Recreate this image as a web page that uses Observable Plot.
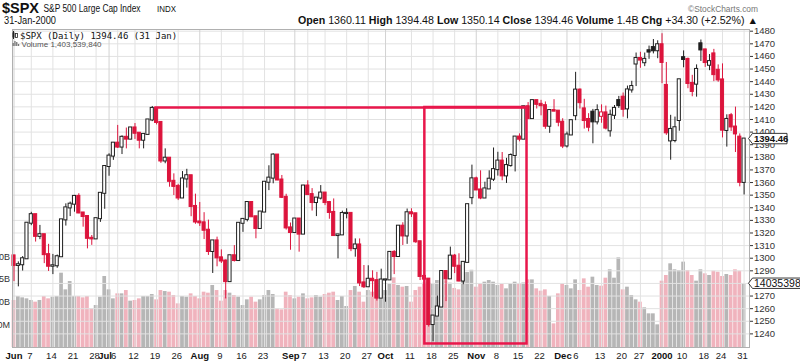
<!DOCTYPE html>
<html><head><meta charset="utf-8">
<script src="https://cdn.jsdelivr.net/npm/d3@7"></script>
<script src="https://cdn.jsdelivr.net/npm/@observablehq/plot@0.6"></script>
<style>
body{margin:0;background:#fff;}
#wrap{position:relative;width:800px;height:362px;overflow:hidden;background:#fff;font-family:"Liberation Sans",Arial,sans-serif;}
#wrap svg{position:absolute;left:0;top:0;}
</style></head><body><div id="wrap"></div>
<script>
// ---------- DATA ----------
const dates = [
"1999-06-01","1999-06-02","1999-06-03","1999-06-04","1999-06-07","1999-06-08","1999-06-09","1999-06-10","1999-06-11","1999-06-14","1999-06-15","1999-06-16","1999-06-17","1999-06-18","1999-06-21","1999-06-22","1999-06-23","1999-06-24","1999-06-25","1999-06-28","1999-06-29","1999-06-30",
"1999-07-01","1999-07-02","1999-07-06","1999-07-07","1999-07-08","1999-07-09","1999-07-12","1999-07-13","1999-07-14","1999-07-15","1999-07-16","1999-07-19","1999-07-20","1999-07-21","1999-07-22","1999-07-23","1999-07-26","1999-07-27","1999-07-28","1999-07-29","1999-07-30",
"1999-08-02","1999-08-03","1999-08-04","1999-08-05","1999-08-06","1999-08-09","1999-08-10","1999-08-11","1999-08-12","1999-08-13","1999-08-16","1999-08-17","1999-08-18","1999-08-19","1999-08-20","1999-08-23","1999-08-24","1999-08-25","1999-08-26","1999-08-27","1999-08-30","1999-08-31",
"1999-09-01","1999-09-02","1999-09-03","1999-09-07","1999-09-08","1999-09-09","1999-09-10","1999-09-13","1999-09-14","1999-09-15","1999-09-16","1999-09-17","1999-09-20","1999-09-21","1999-09-22","1999-09-23","1999-09-24","1999-09-27","1999-09-28","1999-09-29","1999-09-30",
"1999-10-01","1999-10-04","1999-10-05","1999-10-06","1999-10-07","1999-10-08","1999-10-11","1999-10-12","1999-10-13","1999-10-14","1999-10-15","1999-10-18","1999-10-19","1999-10-20","1999-10-21","1999-10-22","1999-10-25","1999-10-26","1999-10-27","1999-10-28","1999-10-29",
"1999-11-01","1999-11-02","1999-11-03","1999-11-04","1999-11-05","1999-11-08","1999-11-09","1999-11-10","1999-11-11","1999-11-12","1999-11-15","1999-11-16","1999-11-17","1999-11-18","1999-11-19","1999-11-22","1999-11-23","1999-11-24","1999-11-26","1999-11-29","1999-11-30",
"1999-12-01","1999-12-02","1999-12-03","1999-12-06","1999-12-07","1999-12-08","1999-12-09","1999-12-10","1999-12-13","1999-12-14","1999-12-15","1999-12-16","1999-12-17","1999-12-20","1999-12-21","1999-12-22","1999-12-23","1999-12-27","1999-12-28","1999-12-29","1999-12-30","1999-12-31",
"2000-01-03","2000-01-04","2000-01-05","2000-01-06","2000-01-07","2000-01-10","2000-01-11","2000-01-12","2000-01-13","2000-01-14","2000-01-18","2000-01-19","2000-01-20","2000-01-21","2000-01-24","2000-01-25","2000-01-26","2000-01-27","2000-01-28","2000-01-31"];

const priorClose = 1301.84;

const open = [
1301.84,1294.26,1294.81,1299.54,1327.75,1334.52,1317.33,1318.64,1302.82,1293.64,1294.00,1301.16,1330.41,1339.90,1342.84,1349.00,1335.87,1333.06,1315.78,1315.31,1331.35,1351.45,
1372.71,1380.96,1391.22,1388.12,1395.86,1394.42,1403.28,1399.10,1393.56,1398.17,1409.62,1418.78,1407.65,1377.10,1379.29,1360.97,1356.94,1347.76,1362.84,1365.40,1341.03,
1328.72,1328.05,1322.18,1305.33,1313.71,1300.29,1297.80,1281.43,1301.93,1298.16,1327.68,1330.77,1344.16,1332.84,1323.59,1336.61,1360.22,1363.50,1381.79,1362.01,1348.27,1324.02,
1320.41,1331.07,1319.11,1357.24,1350.45,1344.15,1347.66,1351.66,1344.13,1336.29,1317.97,1318.48,1335.42,1335.53,1307.58,1310.51,1280.41,1277.36,1283.31,1282.20,1268.37,
1282.71,1282.81,1304.60,1301.35,1325.40,1317.64,1336.02,1335.21,1313.04,1285.55,1283.42,1247.41,1254.13,1261.32,1289.43,1283.61,1301.65,1293.63,1281.91,1296.71,1348.00,
1362.93,1354.12,1347.74,1354.93,1362.64,1370.23,1377.01,1365.28,1373.46,1381.46,1396.06,1394.39,1420.07,1410.71,1424.94,1422.00,1420.94,1404.64,1417.08,1416.62,1407.83,
1389.00,1397.72,1413.00,1433.30,1418.40,1410.00,1415.80,1408.11,1412.50,1415.22,1401.00,1413.32,1425.00,1427.70,1418.40,1433.43,1454.00,1458.34,1455.00,1464.50,1467.00,1464.50,
1469.25,1437.00,1393.00,1393.30,1409.20,1459.00,1457.60,1438.56,1438.00,1470.00,1465.15,1453.00,1462.00,1449.00,1441.36,1401.30,1413.00,1404.00,1396.00,1360.11];

const high = [
1301.84,1297.10,1301.30,1327.75,1336.40,1334.52,1326.00,1318.64,1311.00,1303.00,1302.50,1330.41,1343.10,1344.50,1349.80,1351.10,1335.87,1333.06,1318.00,1331.70,1351.45,1372.90,
1382.80,1391.22,1405.30,1397.00,1403.20,1403.28,1406.80,1399.10,1398.80,1409.80,1420.33,1418.78,1407.65,1386.70,1379.29,1366.90,1358.60,1368.70,1370.50,1365.40,1350.80,
1344.20,1336.10,1330.20,1313.71,1316.70,1306.60,1298.60,1301.93,1310.00,1327.68,1331.00,1344.16,1344.16,1332.84,1336.61,1360.24,1373.30,1382.80,1381.79,1365.60,1350.70,1327.90,
1331.20,1331.07,1357.70,1361.40,1355.20,1347.70,1357.60,1351.66,1345.00,1347.00,1318.50,1337.30,1339.20,1335.53,1315.30,1315.30,1294.20,1294.00,1290.00,1288.80,1291.30,
1283.20,1304.60,1306.00,1325.46,1328.10,1339.00,1339.20,1335.21,1313.04,1289.60,1283.42,1254.13,1270.00,1289.43,1289.43,1308.80,1303.00,1303.50,1297.00,1342.50,1373.80,
1364.30,1369.30,1360.30,1369.30,1387.40,1384.00,1383.80,1379.20,1382.70,1396.10,1398.60,1420.40,1423.40,1425.30,1424.94,1425.20,1423.90,1417.40,1425.70,1416.62,1410.60,
1400.00,1409.60,1447.40,1434.20,1426.00,1414.60,1418.00,1421.60,1421.60,1420.60,1417.40,1421.10,1428.30,1431.00,1436.50,1440.30,1462.70,1463.30,1462.70,1468.20,1473.40,1472.40,
1478.00,1455.22,1413.30,1411.90,1441.47,1464.40,1458.70,1445.00,1453.30,1473.00,1465.70,1461.50,1465.60,1453.30,1454.10,1413.70,1414.80,1419.80,1398.60,1394.48];

const low = [
1281.44,1277.30,1289.80,1299.54,1325.80,1312.80,1314.70,1295.70,1289.50,1287.00,1292.00,1301.16,1325.50,1333.00,1336.50,1335.30,1324.60,1307.40,1310.20,1315.31,1328.40,1338.80,
1365.00,1377.60,1387.00,1382.20,1386.70,1394.00,1394.20,1386.70,1386.70,1398.17,1408.30,1405.70,1375.20,1374.90,1356.30,1349.70,1345.70,1347.76,1355.60,1332.90,1326.90,
1325.20,1314.80,1302.20,1287.90,1293.20,1295.80,1267.70,1281.12,1297.00,1298.16,1320.50,1328.80,1332.50,1315.40,1323.59,1336.61,1353.60,1359.00,1361.50,1347.30,1322.30,1306.30,
1320.40,1304.80,1319.11,1349.70,1337.40,1333.00,1346.20,1341.70,1330.90,1317.60,1299.50,1318.48,1331.20,1305.20,1300.80,1277.50,1276.00,1277.20,1269.00,1266.00,1268.37,
1265.10,1282.81,1287.00,1301.35,1310.10,1311.00,1332.30,1311.80,1282.30,1265.20,1245.40,1233.70,1254.13,1261.32,1265.60,1283.61,1287.80,1281.30,1279.00,1296.71,1342.40,
1353.60,1346.40,1347.74,1354.60,1360.80,1365.10,1361.40,1359.30,1372.20,1368.40,1392.30,1394.39,1410.70,1410.71,1418.30,1412.90,1402.20,1399.00,1416.10,1404.20,1386.90,
1387.40,1397.72,1409.04,1418.30,1402.40,1400.20,1390.70,1405.70,1407.00,1401.70,1396.00,1410.00,1418.80,1411.80,1410.50,1430.90,1436.10,1450.60,1451.90,1457.70,1462.00,1458.20,
1438.40,1397.40,1377.70,1391.50,1400.70,1451.00,1434.40,1428.00,1427.70,1456.00,1451.30,1448.70,1440.00,1439.50,1395.40,1388.10,1400.50,1383.80,1356.60,1350.14];

const close = [
1294.26,1294.81,1299.54,1327.75,1334.52,1317.33,1318.64,1302.82,1293.64,1294.00,1301.16,1330.41,1339.90,1342.84,1349.00,1335.87,1333.06,1315.78,1315.31,1331.35,1351.45,1372.71,
1380.96,1391.22,1388.12,1395.86,1394.42,1403.28,1399.10,1393.56,1398.17,1409.62,1418.78,1407.65,1377.10,1379.29,1360.97,1356.94,1347.76,1362.84,1365.40,1341.03,1328.72,
1328.05,1322.18,1305.33,1313.71,1300.29,1297.80,1281.43,1301.93,1298.16,1327.68,1330.77,1344.16,1332.84,1323.59,1336.61,1360.22,1363.50,1381.79,1362.01,1348.27,1324.02,1320.41,
1331.07,1319.11,1357.24,1350.45,1344.15,1347.66,1351.66,1344.13,1336.29,1317.97,1318.48,1335.42,1335.53,1307.58,1310.51,1280.41,1277.36,1283.31,1282.20,1268.37,1282.71,
1282.81,1304.60,1301.35,1325.40,1317.64,1336.02,1335.21,1313.04,1285.55,1283.42,1247.41,1254.13,1261.32,1289.43,1283.61,1301.65,1293.63,1281.91,1296.71,1342.44,1362.93,
1354.12,1347.74,1354.93,1362.64,1370.23,1377.01,1365.28,1373.46,1381.46,1396.06,1394.39,1420.07,1410.71,1424.94,1422.00,1420.94,1404.64,1417.08,1416.62,1407.83,1388.91,
1397.72,1409.04,1433.30,1423.33,1409.17,1403.88,1408.11,1417.04,1415.22,1403.17,1413.32,1418.78,1421.03,1418.09,1433.43,1436.13,1458.34,1457.10,1457.66,1463.46,1464.47,1469.25,
1455.22,1399.42,1402.11,1403.45,1441.47,1457.60,1438.56,1432.25,1449.68,1465.15,1455.14,1455.90,1445.57,1441.36,1401.53,1410.03,1404.09,1398.56,1360.16,1394.46];

// volume in millions of shares
const volumeM = [
1035,1122,1093,1071,1035,998,1035,1122,1071,1108,1122,1636,1269,1452,1122,1122,1093,1122,851,924,1108,1563,
1269,1071,1181,1181,1254,1020,1035,1071,1122,1122,1166,1049,1254,1232,1218,1144,961,1122,1108,1181,1122,
1071,1218,1196,1365,1254,1020,1254,1196,1144,1108,924,1049,1108,998,1049,1144,1254,1166,851,829,1218,1144,
1071,1108,1181,1071,1093,1144,1108,1166,1196,1218,1035,1122,902,1254,1343,1218,998,1254,1218,1365,1269,
1254,1401,1533,1365,1328,1343,998,1254,1328,1416,1438,1401,1474,1328,1470,1416,1300,1269,1500,1650,1700,
1328,1401,1438,1474,1438,1365,1387,1291,1401,1438,1401,1420,1489,1489,1291,1240,1269,1123,520,1181,1402,
1365,1291,1489,1255,1511,1328,1548,1365,1350,1526,1710,1526,1974,1269,1328,1145,1049,998,873,741,741,499,
1460,1585,1842,1710,1695,1879,1695,1585,1460,1710,1622,1585,1681,1658,1563,1607,1585,1710,1681,1403.53984];

const tickDates = ["1999-06-01","1999-06-07","1999-06-14","1999-06-21","1999-06-28","1999-07-01","1999-07-06","1999-07-12","1999-07-19","1999-07-26","1999-08-02","1999-08-09","1999-08-16","1999-08-23","1999-09-01","1999-09-07","1999-09-13","1999-09-20","1999-09-27","1999-10-01","1999-10-11","1999-10-18","1999-10-25","1999-11-01","1999-11-08","1999-11-15","1999-11-22","1999-12-01","1999-12-06","1999-12-13","1999-12-20","1999-12-27","2000-01-03","2000-01-10","2000-01-18","2000-01-24","2000-01-31"];
const tickLabels = ["Jun","7","14","21","28","Jul","6","12","19","26","Aug","9","16","23","Sep","7","13","20","27","Oct","11","18","25","Nov","8","15","22","Dec","6","13","20","27","2000","10","18","24","31"];

const priceTicks = [1240,1250,1260,1270,1280,1290,1300,1310,1320,1330,1340,1350,1360,1370,1380,1390,1400,1410,1420,1430,1440,1450,1460,1470,1480];
const volTickValues = [2000,1500,1000,500];
const volTickLabels = ["2.0B","1.5B","1.0B","500M"];

// hand-drawn annotation (trading-day positions, price levels)
const annotX = [32.6, 95.1, 118.75];
const annotY = [1419.5, 1232];

// ---------- CHART ----------
const RED = "#dc143c", INK = "#1e1e1e", PINK = "#f0b3bd", GRAY = "#b6b6b6", ANNOT = "#e8174b";
const xDomain = [-0.35, 170.25];
const common = {width: 800, height: 362, marginTop: 29, marginBottom: 15, marginLeft: 12, marginRight: 51};
const baseStyle = {background: "transparent", overflow: "visible", fontFamily: "'Liberation Sans', Arial, sans-serif", fontSize: "9.5px", color: "#333"};

const idxOf = new Map(dates.map((d, i) => [d, i]));
const rows = dates.map((d, i) => {
  const prev = i ? close[i - 1] : priorClose;
  const down = close[i] < prev;
  return {i, o: open[i], h: high[i], l: low[i], c: close[i], v: volumeM[i],
    down, hollow: close[i] > open[i], col: down ? RED : INK};
});
const ticks = tickDates.map((d, k) => ({i: idxOf.get(d), label: tickLabels[k], bold: !/^\d{1,2}$/.test(tickLabels[k])}));
ticks.forEach((t, k) => {
  const nx = ticks[k + 1];
  t.crowdL = t.bold && nx && nx.i - t.i <= 3;
});
ticks.forEach((t, k) => { t.crowdR = k > 0 && ticks[k - 1].crowdL; });

const volPlot = Plot.plot({
  ...common,
  x: {type: "linear", domain: xDomain, axis: null},
  y: {domain: [0, 7000], axis: null},
  style: baseStyle,
  marks: [
    Plot.rect(rows, {x1: d => d.i - 0.43, x2: d => d.i + 0.43, y1: 0, y2: "v", fill: d => d.down ? PINK : GRAY}),
    Plot.text(volTickValues.map((v, k) => ({v, label: volTickLabels[k]})),
      {x: xDomain[0], y: "v", text: "label", textAnchor: "end", dx: -2.5, fontSize: 9, fill: "#333"})
  ]
});

const pricePlot = Plot.plot({
  ...common,
  x: {type: "linear", domain: xDomain, axis: null},
  y: {domain: [1229.2, 1481.35], axis: "right", ticks: priceTicks, tickSize: 3, tickPadding: 1.5, label: null, tickFormat: d => String(d)},
  style: baseStyle,
  marks: [
    Plot.ruleY(priceTicks, {stroke: "#e2e2e2"}),
    Plot.ruleX(ticks, {x: "i", stroke: d => d.bold ? "#d2d2d2" : "#e2e2e2"}),
    Plot.ruleX(rows, {x: "i", y1: "l", y2: "h", stroke: "col", strokeWidth: 1}),
    Plot.rect(rows, {x1: d => d.i - 0.36, x2: d => d.i + 0.36,
      y1: d => Math.min(d.o, d.c), y2: d => Math.max(d.o, d.c),
      insetTop: -0.5, insetBottom: -0.5,
      fill: d => d.hollow ? "white" : d.col, stroke: "col", strokeWidth: 1}),
    Plot.ruleY([annotY[0]], {x1: annotX[0], x2: annotX[2], stroke: ANNOT, strokeWidth: 2.5}),
    Plot.rect([0], {x1: annotX[1], x2: annotX[2], y1: annotY[1], y2: annotY[0], fill: "none", stroke: ANNOT, strokeWidth: 2.5}),
    Plot.text(ticks.filter(t => t.bold && !t.crowdL), {x: "i", text: "label", frameAnchor: "bottom", lineAnchor: "bottom", dy: 11, fontWeight: "bold", fontSize: 9.5, fill: "#111"}),
    Plot.text(ticks.filter(t => t.bold && t.crowdL), {x: "i", text: "label", frameAnchor: "bottom", lineAnchor: "bottom", dy: 11, dx: -4, fontWeight: "bold", fontSize: 9.5, fill: "#111"}),
    Plot.text(ticks.filter(t => !t.bold && t.crowdR), {x: "i", text: "label", frameAnchor: "bottom", lineAnchor: "bottom", dy: 11, dx: -4, fontSize: 9.5, fill: "#222"}),
    Plot.text(ticks.filter(t => !t.bold && !t.crowdR), {x: "i", text: "label", frameAnchor: "bottom", lineAnchor: "bottom", dy: 11, dx: -1.5, fontSize: 9.5, fill: "#222"}),
    Plot.frame({stroke: "#b0b0b0"})
  ]
});

const wrap = document.getElementById("wrap");
wrap.appendChild(volPlot);
wrap.appendChild(pricePlot);
d3.selectAll("#wrap svg").style("background", "transparent");

// ---------- TEXT / LABEL BOXES ----------
const svg = d3.select(pricePlot);
const last = rows[rows.length - 1];
const prevC = close[close.length - 2];
const chg = last.c - prevC;
const fmt2 = d3.format(".2f");
const volShares = Math.round(last.v * 1e6);
const F = "'Liberation Sans', Arial, sans-serif";

const g = svg.append("g").attr("font-family", F).attr("fill", "#111").attr("text-anchor", "start");
g.append("text").attr("x", 2).attr("y", 13).attr("font-size", 15).attr("font-weight", "bold")
  .attr("textLength", 37).attr("lengthAdjust", "spacingAndGlyphs").text("$SPX");
g.append("text").attr("x", 43.5).attr("y", 12).attr("font-size", 10)
  .attr("textLength", 97).attr("lengthAdjust", "spacingAndGlyphs").text("S&P 500 Large Cap Index");
g.append("text").attr("x", 157).attr("y", 12).attr("font-size", 9)
  .attr("textLength", 19).attr("lengthAdjust", "spacingAndGlyphs").text("INDX");
g.append("text").attr("x", 688).attr("y", 12).attr("font-size", 9).attr("fill", "#777")
  .attr("textLength", 70).attr("lengthAdjust", "spacingAndGlyphs").text("\u00A9StockCharts.com");
g.append("text").attr("x", 4).attr("y", 24).attr("font-size", 10)
  .attr("textLength", 52).attr("lengthAdjust", "spacingAndGlyphs").text("31-Jan-2000");

const hdr = g.append("text").attr("x", 298).attr("y", 24).attr("font-size", 10)
  .attr("textLength", 460).attr("lengthAdjust", "spacingAndGlyphs");
const parts = [
  ["Open", fmt2(last.o)], ["High", fmt2(last.h)], ["Low", fmt2(last.l)], ["Close", fmt2(last.c)],
  ["Volume", (last.v / 1000).toFixed(1) + "B"],
  ["Chg", (chg >= 0 ? "+" : "") + fmt2(chg) + " (" + (chg >= 0 ? "+" : "") + fmt2(chg / prevC * 100) + "%) \u25B2"]
];
parts.forEach(([k, v], n) => {
  hdr.append("tspan").attr("font-weight", "bold").text((n ? " " : "") + k);
  hdr.append("tspan").text(" " + v);
});

// legend inside plot
const lg = svg.append("g").attr("text-anchor", "start");
lg.append("rect").attr("x", 12.5).attr("y", 32.5).attr("width", 2).attr("height", 5).attr("fill", "#222");
lg.append("line").attr("x1", 13.5).attr("x2", 13.5).attr("y1", 31).attr("y2", 39).attr("stroke", "#222");
lg.append("rect").attr("x", 15.5).attr("y", 33.5).attr("width", 2).attr("height", 4).attr("fill", "white").attr("stroke", "#222").attr("stroke-width", 0.8);
lg.append("text").attr("x", 20).attr("y", 38.5).attr("font-family", "'DejaVu Sans Mono', 'Liberation Mono', monospace")
  .attr("font-size", 9).attr("fill", "#111")
  .text("$SPX (Daily) " + fmt2(last.c) + " (31 Jan)");
[3, 5, 4, 2].forEach((h, k) => lg.append("rect").attr("x", 12.5 + k * 1.8).attr("y", 46 - h).attr("width", 1.3).attr("height", h).attr("fill", "#777"));
lg.append("text").attr("x", 21.5).attr("y", 46.5).attr("font-family", F).attr("font-size", 8).attr("fill", "#555")
  .text("Volume " + d3.format(",")(volShares));

// last-value boxes on the right
function tagBox(sel, y, text, bold, x2) {
  const t = sel.append("g").attr("text-anchor", "start");
  t.append("path").attr("d", `M748.5,${y} L752.5,${y - 5.2} L${x2},${y - 5.2} L${x2},${y + 5.2} L752.5,${y + 5.2} Z`)
    .attr("fill", "white").attr("stroke", "#222").attr("stroke-width", 0.9);
  t.append("text").attr("x", 754).attr("y", y + 3.6).attr("font-family", F).attr("font-size", bold ? 9.5 : 10.5)
    .attr("font-weight", bold ? "bold" : "normal").attr("fill", "#111").text(text);
}
tagBox(svg, pricePlot.scale("y").apply(last.c), fmt2(last.c), true, 787);
tagBox(svg, volPlot.scale("y").apply(last.v), String(volShares), false, 812);
</script></body></html>
